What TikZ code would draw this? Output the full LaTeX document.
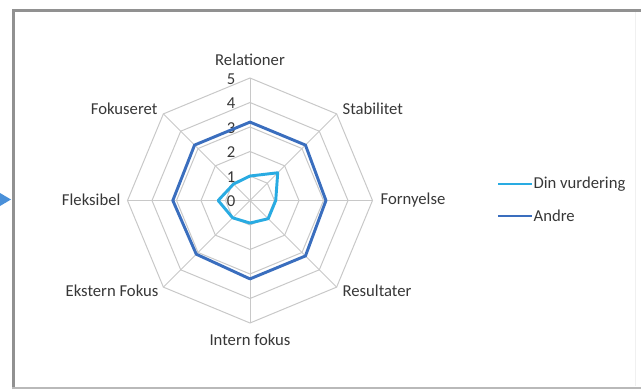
\documentclass[tikz,border=0pt]{standalone}
\usepackage{fontspec}
\setmainfont{Carlito}
\usetikzlibrary{positioning}
\definecolor{gridgray}{RGB}{200,200,200}
\definecolor{dinblue}{RGB}{41,171,226}
\definecolor{andreblue}{RGB}{58,110,190}
\definecolor{txtgray}{RGB}{55,55,55}
\definecolor{framegray}{RGB}{145,145,145}
\definecolor{tipblue}{RGB}{74,144,217}

\begin{document}
\begin{tikzpicture}[x=0.75pt,y=-0.75pt,
	gridline/.style={draw=gridgray,line width=0.75pt},
	catlabel/.style={text=txtgray,font=\fontsize{12.5}{15}\selectfont,inner sep=1pt},
	vallabel/.style={text=txtgray,font=\fontsize{12.5}{15}\selectfont,inner sep=0pt},
	dinline/.style={draw=dinblue,line width=2.2pt,line join=round},
	andreline/.style={draw=andreblue,line width=2.2pt,line join=round}]
	\useasboundingbox (0,0) rectangle (641,389);
	% frame round the chart
	\draw[framegray,line width=2.25pt] (13,389) -- (13,10.5) -- (641,10.5);
	\draw[gray!55,line width=1.5pt] (12,387.5) -- (641,387.5);
	\draw[gray!12,line width=0.75pt] (635,12) -- (635,386);
	% the small arrow tip on the left edge
	\fill[tipblue] (0,193) -- (11,199.5) -- (0,206) -- cycle;
	\def\u{24.5}
	\begin{scope}[shift={(250,200.5)},yscale=-1]
		%% the web
		\foreach \r in {1,...,5}
			\draw[gridline] (90:\r*\u) \foreach \i in {1,...,7}{ -- (90-45*\i:\r*\u)} -- cycle;
		\foreach \i in {0,...,7}
			\draw[gridline] (0,0) -- (90-45*\i:5*\u);
		%% the scale
		\foreach \r in {0,...,5}
			\node[vallabel] (val\r) at (-19,\r*\u-1) {\r};
		%% the two series
		\foreach \v [count=\i from 0] in {3.2,3.2,3.1,3.2,3.2,3.1,3.15,3.2}
			\coordinate (a\i) at (90-45*\i:\v*\u);
		\foreach \v [count=\i from 0] in {1.0,1.6,1.05,1.05,0.92,1.0,1.3,0.95}
			\coordinate (d\i) at (90-45*\i:\v*\u);
		\draw[andreline] (a0) -- (a1) -- (a2) -- (a3) -- (a4) -- (a5) -- (a6) -- (a7) -- cycle;
		\draw[dinline] (d0) -- (d1) -- (d2) -- (d3) -- (d4) -- (d5) -- (d6) -- (d7) -- cycle;
	\end{scope}
	%% the labels
	\node[catlabel] (relationer) at (250,60) {Relationer};
	\node[catlabel,anchor=west] (stabilitet) at (341,109) {Stabilitet};
	\node[catlabel,anchor=west] (fornyelse) at (379,200) {Fornyelse};
	\node[catlabel,anchor=west] (resultater) at (341,291) {Resultater};
	\node[catlabel] (intern) at (250,340) {Intern fokus};
	\node[catlabel,anchor=east] (ekstern) at (160,291) {Ekstern Fokus};
	\node[catlabel,anchor=east] (fleksibel) at (122,200) {Fleksibel};
	\node[catlabel,anchor=east] (fokuseret) at (159,109) {Fokuseret};
	%% legend
	\coordinate (dinstart) at (498,184);
	\coordinate (andrestart) at (498,216);
	\node[catlabel,anchor=west] (dinkey) at (532,184) {Din vurdering};
	\node[catlabel,anchor=west] (andrekey) at (532,216) {Andre};
	\draw[dinline] (dinstart) -- (dinkey.west);
	\draw[andreline] (andrestart) -- (andrekey.west);
\end{tikzpicture}
\end{document}
